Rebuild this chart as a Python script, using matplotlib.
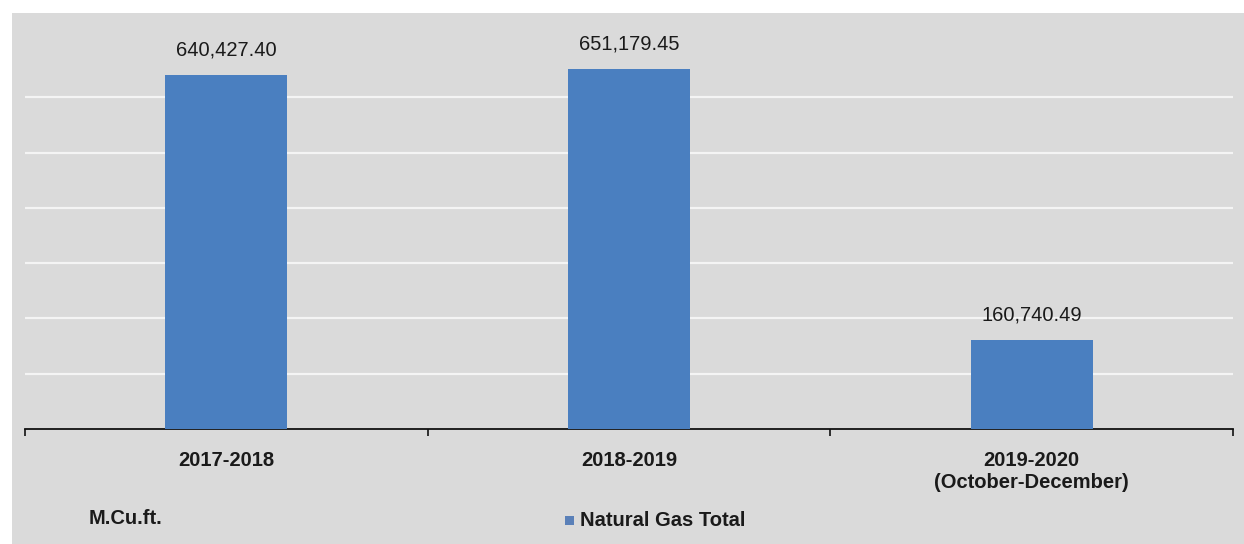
import matplotlib
matplotlib.use("Agg")
import matplotlib.pyplot as plt
from matplotlib.patches import Rectangle

categories = ["2017-2018", "2018-2019", "2019-2020\n(October-December)"]
values = [640427.40, 651179.45, 160740.49]
value_labels = ["640,427.40", "651,179.45", "160,740.49"]
series_name = "Natural Gas Total"
unit_label = "M.Cu.ft."
grid_ticks = [100000, 200000, 300000, 400000, 500000, 600000]

plt.rcParams['font.family'] = ['Liberation Sans', 'DejaVu Sans']

W, H = 1244, 544
fig = plt.figure(figsize=(W / 100, H / 100), dpi=100)
fig.patch.set_facecolor("white")

# gray chart-area background
bg = Rectangle((12 / W, 0), 1 - 12 / W, 1 - 13 / H, transform=fig.transFigure,
               facecolor="#dadada", edgecolor="none", zorder=-5)
fig.patches.append(bg)

left, right = 25 / W, 1233 / W
bottom, top = 1 - 429 / H, 1 - 42 / H
ax = fig.add_axes([left, bottom, right - left, top - bottom])
ax.set_zorder(2)
ax.set_facecolor("none")

x = list(range(len(categories)))
bar_color = "#4a7fc0"
ax.bar(x, values, width=0.303, color=bar_color, zorder=3)
ax.set_xlim(-0.5, len(categories) - 0.5)
ax.set_ylim(0, 700000)

for yv in grid_ticks:
    ax.axhline(yv, color="#f4f4f4", lw=1.6, zorder=1)

for xi, v, lab in zip(x, values, value_labels):
    ax.annotate(lab, (xi, v), xytext=(0, 11), textcoords="offset points",
                ha="center", va="bottom", fontsize=14.5, color="#1a1a1a")

for s in ["left", "right", "top"]:
    ax.spines[s].set_visible(False)
ax.spines["bottom"].set_color("#111111")
ax.spines["bottom"].set_linewidth(1.3)
ax.set_yticks([])

# category boundary ticks
ax.set_xticks([-0.5, 0.5, 1.5, 2.5])
ax.set_xticklabels([])
ax.tick_params(axis="x", direction="out", length=5, width=1.2, color="#111111")

label_y = -22 / (429 - 42)
for xi, c in zip(x, categories):
    ax.text(xi, label_y, c, transform=ax.get_xaxis_transform(), ha="center", va="top",
            fontsize=14.5, fontweight="bold", color="#1a1a1a",
            linespacing=1.2, clip_on=False)

fig.text(89 / W, 1 - 519 / H, unit_label, ha="left", va="center",
         fontsize=14.5, fontweight="bold", color="#1a1a1a")
fig.patches.append(Rectangle((565 / W, 1 - 525 / H), 9 / W, 9 / H,
                             transform=fig.transFigure, facecolor="#5a80b8",
                             edgecolor="none", zorder=2))
fig.text(580 / W, 1 - 520 / H, series_name, ha="left", va="center",
         fontsize=14.5, fontweight="bold", color="#1a1a1a")

fig.savefig("out.png", dpi=100, facecolor=fig.get_facecolor())
